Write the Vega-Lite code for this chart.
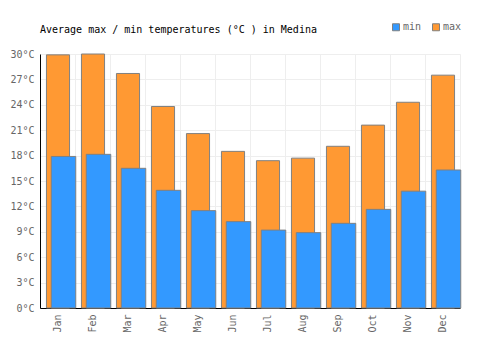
{
  "$schema": "https://vega.github.io/schema/vega-lite/v6.json",
  "width": 420,
  "height": 254,
  "autosize": {"type": "none"},
  "padding": {"left": 40, "top": 54, "right": 40, "bottom": 42},
  "background": "white",
  "title": {
    "text": "Average max / min temperatures (°C ) in Medina",
    "anchor": "start",
    "frame": "group",
    "font": "DejaVu Sans Mono",
    "fontSize": 10,
    "fontWeight": "normal",
    "color": "#000000",
    "offset": 0,
    "dy": 13
  },
  "config": {
    "view": {"stroke": "#eeeeee"},
    "font": "DejaVu Sans Mono"
  },
  "data": {
    "values": [
      {"month": "Jan", "series": "max", "temp": 29.9},
      {"month": "Feb", "series": "max", "temp": 30.0},
      {"month": "Mar", "series": "max", "temp": 27.7},
      {"month": "Apr", "series": "max", "temp": 23.8},
      {"month": "May", "series": "max", "temp": 20.6},
      {"month": "Jun", "series": "max", "temp": 18.5},
      {"month": "Jul", "series": "max", "temp": 17.4},
      {"month": "Aug", "series": "max", "temp": 17.7},
      {"month": "Sep", "series": "max", "temp": 19.1},
      {"month": "Oct", "series": "max", "temp": 21.6},
      {"month": "Nov", "series": "max", "temp": 24.3},
      {"month": "Dec", "series": "max", "temp": 27.5},
      {"month": "Jan", "series": "min", "temp": 17.9},
      {"month": "Feb", "series": "min", "temp": 18.15},
      {"month": "Mar", "series": "min", "temp": 16.5},
      {"month": "Apr", "series": "min", "temp": 13.9},
      {"month": "May", "series": "min", "temp": 11.5},
      {"month": "Jun", "series": "min", "temp": 10.2},
      {"month": "Jul", "series": "min", "temp": 9.2},
      {"month": "Aug", "series": "min", "temp": 8.9},
      {"month": "Sep", "series": "min", "temp": 10.0},
      {"month": "Oct", "series": "min", "temp": 11.65},
      {"month": "Nov", "series": "min", "temp": 13.8},
      {"month": "Dec", "series": "min", "temp": 16.3}
    ]
  },
  "encoding": {
    "x": {
      "field": "month",
      "type": "nominal",
      "sort": null,
      "scale": {"paddingInner": 0, "paddingOuter": 0},
      "axis": {
        "title": null,
        "bandPosition": 0,
        "labelAngle": 270,
        "labelAlign": "right",
        "labelBaseline": "middle",
        "labelPadding": 6,
        "labelFont": "DejaVu Sans Mono",
        "labelFontSize": 10,
        "labelColor": "#666666",
        "ticks": false,
        "domainColor": "#000000",
        "gridColor": "#eeeeee",
        "grid": true
      }
    },
    "y": {
      "field": "temp",
      "type": "quantitative",
      "scale": {"domain": [0, 30], "nice": false},
      "axis": {
        "title": null,
        "values": [0, 3, 6, 9, 12, 15, 18, 21, 24, 27, 30],
        "labelExpr": "datum.value + '°C'",
        "labelFont": "DejaVu Sans Mono",
        "labelFontSize": 10,
        "labelColor": "#666666",
        "labelPadding": 6,
        "ticks": false,
        "domainColor": "#000000",
        "gridColor": "#eeeeee"
      }
    },
    "color": {
      "field": "series",
      "type": "nominal",
      "scale": {"domain": ["min", "max"], "range": ["#3399ff", "#ff9933"]},
      "legend": {
        "title": null,
        "orient": "none",
        "direction": "horizontal",
        "legendX": 351,
        "legendY": -32,
        "symbolType": "square",
        "symbolSize": 49,
        "symbolStrokeColor": "#808080",
        "symbolStrokeWidth": 1,
        "symbolOpacity": 1,
        "labelFont": "DejaVu Sans Mono",
        "labelFontSize": 10,
        "labelColor": "#666666",
        "labelOffset": 2,
        "columnPadding": 8,
        "padding": 0
      }
    }
  },
  "layer": [
    {
      "transform": [{"filter": "datum.series == 'max'"}],
      "mark": {"type": "bar", "width": {"band": 0.66}, "xOffset": 0.5, "stroke": "#808080", "strokeWidth": 1, "opacity": 1}
    },
    {
      "transform": [{"filter": "datum.series == 'min'"}],
      "mark": {"type": "bar", "width": {"band": 0.7}, "xOffset": 6, "stroke": "#808080", "strokeWidth": 1, "opacity": 1}
    }
  ]
}
